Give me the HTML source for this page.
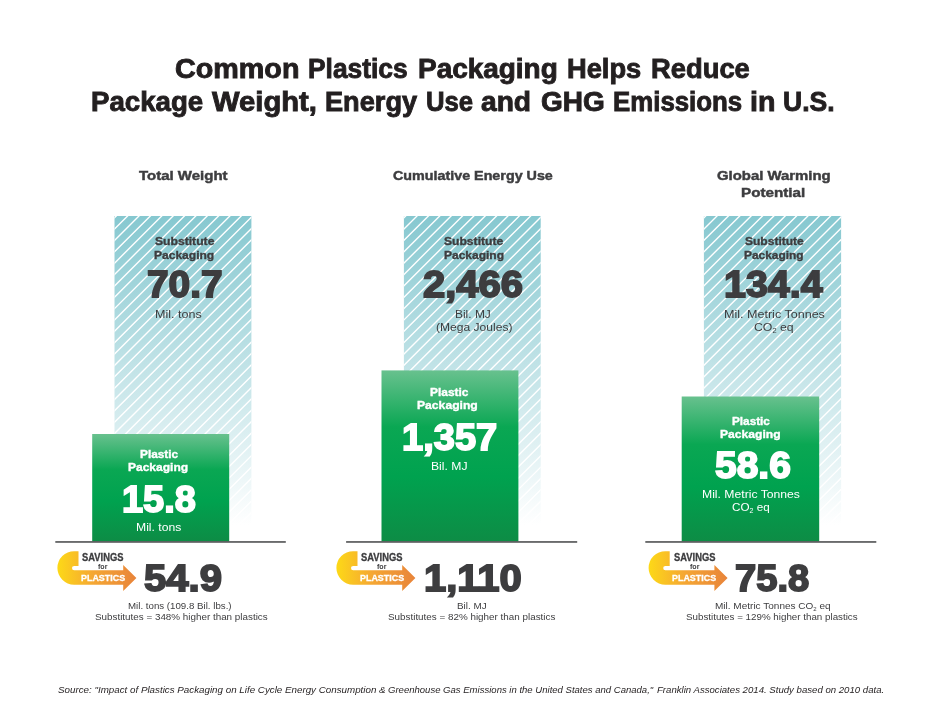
<!DOCTYPE html>
<html lang="en"><head><meta charset="utf-8"><title>Common Plastics Packaging Helps Reduce Package Weight, Energy Use and GHG Emissions in U.S.</title>
<style>
*{margin:0;padding:0;box-sizing:border-box}
html,body{width:940px;height:726px;background:#fff;overflow:hidden}
body{position:relative;font-family:"Liberation Sans",sans-serif}
.t{position:absolute;display:block;white-space:nowrap;line-height:1;transform-origin:0 0}
h1,p{font:inherit}
.sb{font-size:60%;position:relative;top:0.34em}
.bg{position:absolute;left:0;top:0}
</style></head>
<body>
<svg class="bg" width="940" height="726" viewBox="0 0 940 726">
<defs>
<linearGradient id="gs" x1="0" y1="0" x2="0" y2="1"><stop offset="0" stop-color="#86c8d0"/><stop offset="0.95" stop-color="#ffffff"/><stop offset="1" stop-color="#ffffff"/></linearGradient>
<linearGradient id="gg" x1="0" y1="0" x2="0" y2="1"><stop offset="0" stop-color="#68c18e"/><stop offset="0.33" stop-color="#0aa753"/><stop offset="0.62" stop-color="#00a24f"/><stop offset="1" stop-color="#0d8c45"/></linearGradient>
<linearGradient id="gi0" gradientUnits="userSpaceOnUse" x1="57.4" y1="0" x2="136.4" y2="0"><stop offset="0" stop-color="#fdd917"/><stop offset="0.45" stop-color="#f5a733"/><stop offset="1" stop-color="#e8843a"/></linearGradient>
<linearGradient id="gi1" gradientUnits="userSpaceOnUse" x1="336.4" y1="0" x2="415.4" y2="0"><stop offset="0" stop-color="#fdd917"/><stop offset="0.45" stop-color="#f5a733"/><stop offset="1" stop-color="#e8843a"/></linearGradient>
<linearGradient id="gi2" gradientUnits="userSpaceOnUse" x1="648.6" y1="0" x2="727.6" y2="0"><stop offset="0" stop-color="#fdd917"/><stop offset="0.45" stop-color="#f5a733"/><stop offset="1" stop-color="#e8843a"/></linearGradient>
<clipPath id="c0"><rect x="114.5" y="216.0" width="136.90" height="325.10"/></clipPath>
<clipPath id="c1"><rect x="403.9" y="216.0" width="136.80" height="325.10"/></clipPath>
<clipPath id="c2"><rect x="703.9" y="216.0" width="137.20" height="325.10"/></clipPath>
</defs>
<rect x="114.5" y="216.0" width="136.90" height="325.10" fill="url(#gs)"/>
<g clip-path="url(#c0)"><path d="M112.50,219.74L253.40,78.84M112.50,231.10L253.40,90.20M112.50,242.46L253.40,101.56M112.50,253.82L253.40,112.92M112.50,265.18L253.40,124.28M112.50,276.54L253.40,135.64M112.50,287.90L253.40,147.00M112.50,299.26L253.40,158.36M112.50,310.62L253.40,169.72M112.50,321.98L253.40,181.08M112.50,333.34L253.40,192.44M112.50,344.70L253.40,203.80M112.50,356.06L253.40,215.16M112.50,367.42L253.40,226.52M112.50,378.78L253.40,237.88M112.50,390.14L253.40,249.24M112.50,401.50L253.40,260.60M112.50,412.86L253.40,271.96M112.50,424.22L253.40,283.32M112.50,435.58L253.40,294.68M112.50,446.94L253.40,306.04M112.50,458.30L253.40,317.40M112.50,469.66L253.40,328.76M112.50,481.02L253.40,340.12M112.50,492.38L253.40,351.48M112.50,503.74L253.40,362.84M112.50,515.10L253.40,374.20M112.50,526.46L253.40,385.56M112.50,537.82L253.40,396.92M112.50,549.18L253.40,408.28M112.50,560.54L253.40,419.64M112.50,571.90L253.40,431.00M112.50,583.26L253.40,442.36M112.50,594.62L253.40,453.72M112.50,605.98L253.40,465.08M112.50,617.34L253.40,476.44M112.50,628.70L253.40,487.80M112.50,640.06L253.40,499.16M112.50,651.42L253.40,510.52M112.50,662.78L253.40,521.88M112.50,674.14L253.40,533.24" stroke="#fff" stroke-width="1.4" fill="none"/></g>
<rect x="92.2" y="434.0" width="137.00" height="107.70" fill="url(#gg)"/>
<rect x="55.3" y="541.1" width="230.50" height="1.7" fill="#5a5b5d"/>
<rect x="403.9" y="216.0" width="136.80" height="325.10" fill="url(#gs)"/>
<g clip-path="url(#c1)"><path d="M401.90,219.74L542.70,78.94M401.90,231.10L542.70,90.30M401.90,242.46L542.70,101.66M401.90,253.82L542.70,113.02M401.90,265.18L542.70,124.38M401.90,276.54L542.70,135.74M401.90,287.90L542.70,147.10M401.90,299.26L542.70,158.46M401.90,310.62L542.70,169.82M401.90,321.98L542.70,181.18M401.90,333.34L542.70,192.54M401.90,344.70L542.70,203.90M401.90,356.06L542.70,215.26M401.90,367.42L542.70,226.62M401.90,378.78L542.70,237.98M401.90,390.14L542.70,249.34M401.90,401.50L542.70,260.70M401.90,412.86L542.70,272.06M401.90,424.22L542.70,283.42M401.90,435.58L542.70,294.78M401.90,446.94L542.70,306.14M401.90,458.30L542.70,317.50M401.90,469.66L542.70,328.86M401.90,481.02L542.70,340.22M401.90,492.38L542.70,351.58M401.90,503.74L542.70,362.94M401.90,515.10L542.70,374.30M401.90,526.46L542.70,385.66M401.90,537.82L542.70,397.02M401.90,549.18L542.70,408.38M401.90,560.54L542.70,419.74M401.90,571.90L542.70,431.10M401.90,583.26L542.70,442.46M401.90,594.62L542.70,453.82M401.90,605.98L542.70,465.18M401.90,617.34L542.70,476.54M401.90,628.70L542.70,487.90M401.90,640.06L542.70,499.26M401.90,651.42L542.70,510.62M401.90,662.78L542.70,521.98M401.90,674.14L542.70,533.34" stroke="#fff" stroke-width="1.4" fill="none"/></g>
<rect x="381.5" y="370.4" width="136.90" height="171.30" fill="url(#gg)"/>
<rect x="346.1" y="541.1" width="231.10" height="1.7" fill="#5a5b5d"/>
<rect x="703.9" y="216.0" width="137.20" height="325.10" fill="url(#gs)"/>
<g clip-path="url(#c2)"><path d="M701.90,219.74L843.10,78.54M701.90,231.10L843.10,89.90M701.90,242.46L843.10,101.26M701.90,253.82L843.10,112.62M701.90,265.18L843.10,123.98M701.90,276.54L843.10,135.34M701.90,287.90L843.10,146.70M701.90,299.26L843.10,158.06M701.90,310.62L843.10,169.42M701.90,321.98L843.10,180.78M701.90,333.34L843.10,192.14M701.90,344.70L843.10,203.50M701.90,356.06L843.10,214.86M701.90,367.42L843.10,226.22M701.90,378.78L843.10,237.58M701.90,390.14L843.10,248.94M701.90,401.50L843.10,260.30M701.90,412.86L843.10,271.66M701.90,424.22L843.10,283.02M701.90,435.58L843.10,294.38M701.90,446.94L843.10,305.74M701.90,458.30L843.10,317.10M701.90,469.66L843.10,328.46M701.90,481.02L843.10,339.82M701.90,492.38L843.10,351.18M701.90,503.74L843.10,362.54M701.90,515.10L843.10,373.90M701.90,526.46L843.10,385.26M701.90,537.82L843.10,396.62M701.90,549.18L843.10,407.98M701.90,560.54L843.10,419.34M701.90,571.90L843.10,430.70M701.90,583.26L843.10,442.06M701.90,594.62L843.10,453.42M701.90,605.98L843.10,464.78M701.90,617.34L843.10,476.14M701.90,628.70L843.10,487.50M701.90,640.06L843.10,498.86M701.90,651.42L843.10,510.22M701.90,662.78L843.10,521.58M701.90,674.14L843.10,532.94" stroke="#fff" stroke-width="1.4" fill="none"/></g>
<rect x="681.7" y="396.5" width="137.50" height="145.20" fill="url(#gg)"/>
<rect x="645.3" y="541.1" width="231.00" height="1.7" fill="#5a5b5d"/>
<path d="M74.15,551.20 L78.50,551.20 L78.50,565.90 L74.20,565.90 A2.20,2.20 0 0 0 74.20,570.30 L123.20,570.30 L123.20,564.90 L136.40,577.90 L123.20,591.00 L123.20,584.70 L74.15,584.70 A16.75,16.75 0 0 1 74.15,551.20 Z" fill="url(#gi0)"/>
<path d="M353.15,551.20 L357.50,551.20 L357.50,565.90 L353.20,565.90 A2.20,2.20 0 0 0 353.20,570.30 L402.20,570.30 L402.20,564.90 L415.40,577.90 L402.20,591.00 L402.20,584.70 L353.15,584.70 A16.75,16.75 0 0 1 353.15,551.20 Z" fill="url(#gi1)"/>
<path d="M665.35,551.20 L669.70,551.20 L669.70,565.90 L665.40,565.90 A2.20,2.20 0 0 0 665.40,570.30 L714.40,570.30 L714.40,564.90 L727.60,577.90 L714.40,591.00 L714.40,584.70 L665.35,584.70 A16.75,16.75 0 0 1 665.35,551.20 Z" fill="url(#gi2)"/>
</svg>
<h1>
<span class="t" style="left:174.60px;top:56.00px;font-size:27.0px;font-weight:bold;color:#231f20;-webkit-text-stroke:0.9px #231f20;transform:scaleX(1.0635);">Common</span> 
<span class="t" style="left:308.38px;top:56.00px;font-size:27.0px;font-weight:bold;color:#231f20;-webkit-text-stroke:0.9px #231f20;transform:scaleX(0.9756);">Plastics</span> 
<span class="t" style="left:418.41px;top:56.00px;font-size:27.0px;font-weight:bold;color:#231f20;-webkit-text-stroke:0.9px #231f20;transform:scaleX(1.0347);">Packaging</span> 
<span class="t" style="left:566.94px;top:56.00px;font-size:27.0px;font-weight:bold;color:#231f20;-webkit-text-stroke:0.9px #231f20;transform:scaleX(1.0098);">Helps</span> 
<span class="t" style="left:650.63px;top:56.00px;font-size:27.0px;font-weight:bold;color:#231f20;-webkit-text-stroke:0.9px #231f20;transform:scaleX(1.0131);">Reduce</span> 
<span class="t" style="left:91.12px;top:89.00px;font-size:27.0px;font-weight:bold;color:#231f20;-webkit-text-stroke:0.9px #231f20;transform:scaleX(1.0237);">Package</span> 
<span class="t" style="left:212.44px;top:89.00px;font-size:27.0px;font-weight:bold;color:#231f20;-webkit-text-stroke:0.9px #231f20;transform:scaleX(1.0816);">Weight,</span> 
<span class="t" style="left:325.34px;top:89.00px;font-size:27.0px;font-weight:bold;color:#231f20;-webkit-text-stroke:0.9px #231f20;transform:scaleX(1.0061);">Energy</span> 
<span class="t" style="left:426.21px;top:89.00px;font-size:27.0px;font-weight:bold;color:#231f20;-webkit-text-stroke:0.9px #231f20;transform:scaleX(0.9508);">Use</span> 
<span class="t" style="left:481.44px;top:89.00px;font-size:27.0px;font-weight:bold;color:#231f20;-webkit-text-stroke:0.9px #231f20;transform:scaleX(1.0430);">and</span> 
<span class="t" style="left:540.52px;top:89.00px;font-size:27.0px;font-weight:bold;color:#231f20;-webkit-text-stroke:0.9px #231f20;transform:scaleX(1.0370);">GHG</span> 
<span class="t" style="left:613.40px;top:89.00px;font-size:27.0px;font-weight:bold;color:#231f20;-webkit-text-stroke:0.9px #231f20;transform:scaleX(0.9568);">Emissions</span> 
<span class="t" style="left:749.91px;top:89.00px;font-size:27.0px;font-weight:bold;color:#231f20;-webkit-text-stroke:0.9px #231f20;transform:scaleX(1.0588);">in</span> 
<span class="t" style="left:783.47px;top:89.00px;font-size:27.0px;font-weight:bold;color:#231f20;-webkit-text-stroke:0.9px #231f20;transform:scaleX(0.9829);">U.S.</span> 
</h1>
<div class="t" style="left:139.40px;top:169.00px;font-size:13px;font-weight:bold;color:#3d3d3f;-webkit-text-stroke:0.45px #3d3d3f;transform:scaleX(1.1531);">Total Weight</div>
<div class="t" style="left:392.82px;top:169.00px;font-size:13px;font-weight:bold;color:#3d3d3f;-webkit-text-stroke:0.45px #3d3d3f;transform:scaleX(1.1005);">Cumulative Energy Use</div>
<div class="t" style="left:716.71px;top:169.00px;font-size:13px;font-weight:bold;color:#3d3d3f;-webkit-text-stroke:0.45px #3d3d3f;transform:scaleX(1.1461);">Global Warming</div>
<div class="t" style="left:741.42px;top:186.00px;font-size:13px;font-weight:bold;color:#3d3d3f;-webkit-text-stroke:0.45px #3d3d3f;transform:scaleX(1.1701);">Potential</div>
<div class="t" style="left:154.71px;top:236.00px;font-size:10.5px;font-weight:bold;color:#3d3d3f;-webkit-text-stroke:0.35px #3d3d3f;transform:scaleX(1.1569);">Substitute</div>
<div class="t" style="left:154.43px;top:250.00px;font-size:10.5px;font-weight:bold;color:#3d3d3f;-webkit-text-stroke:0.35px #3d3d3f;transform:scaleX(1.1456);">Packaging</div>
<div class="t" style="left:147.13px;top:266.00px;font-size:37.6px;font-weight:bold;color:#3d3d3f;-webkit-text-stroke:1.8px #3d3d3f;transform:scaleX(1.0328);">70.7</div>
<div class="t" style="left:155.00px;top:309.00px;font-size:10.5px;font-weight:normal;color:#3d3d3f;transform:scaleX(1.1947);">Mil. tons</div>
<div class="t" style="left:443.81px;top:236.00px;font-size:10.5px;font-weight:bold;color:#3d3d3f;-webkit-text-stroke:0.35px #3d3d3f;transform:scaleX(1.1529);">Substitute</div>
<div class="t" style="left:443.53px;top:250.00px;font-size:10.5px;font-weight:bold;color:#3d3d3f;-webkit-text-stroke:0.35px #3d3d3f;transform:scaleX(1.1417);">Packaging</div>
<div class="t" style="left:423.37px;top:266.00px;font-size:37.6px;font-weight:bold;color:#3d3d3f;-webkit-text-stroke:1.8px #3d3d3f;transform:scaleX(1.0645);">2,466</div>
<div class="t" style="left:455.35px;top:309.00px;font-size:10.5px;font-weight:normal;color:#3d3d3f;transform:scaleX(1.1367);">Bil. MJ</div>
<div class="t" style="left:435.64px;top:322.00px;font-size:10.5px;font-weight:normal;color:#3d3d3f;transform:scaleX(1.1492);">(Mega Joules)</div>
<div class="t" style="left:744.51px;top:236.00px;font-size:10.5px;font-weight:bold;color:#3d3d3f;-webkit-text-stroke:0.35px #3d3d3f;transform:scaleX(1.1451);">Substitute</div>
<div class="t" style="left:744.23px;top:250.00px;font-size:10.5px;font-weight:bold;color:#3d3d3f;-webkit-text-stroke:0.35px #3d3d3f;transform:scaleX(1.1340);">Packaging</div>
<div class="t" style="left:723.63px;top:266.00px;font-size:37.6px;font-weight:bold;color:#3d3d3f;-webkit-text-stroke:1.8px #3d3d3f;transform:scaleX(1.0477);">134.4</div>
<div class="t" style="left:723.50px;top:309.00px;font-size:10.5px;font-weight:normal;color:#3d3d3f;transform:scaleX(1.1952);">Mil. Metric Tonnes</div>
<div class="t" style="left:754.12px;top:322.00px;font-size:10.5px;font-weight:normal;color:#3d3d3f;transform:scaleX(1.1695);">CO<span class="sb">2</span> eq</div>
<div class="t" style="left:140.04px;top:449.00px;font-size:10.5px;font-weight:bold;color:#ffffff;-webkit-text-stroke:0.35px #ffffff;transform:scaleX(1.1278);">Plastic</div>
<div class="t" style="left:128.03px;top:462.00px;font-size:10.5px;font-weight:bold;color:#ffffff;-webkit-text-stroke:0.35px #ffffff;transform:scaleX(1.1437);">Packaging</div>
<div class="t" style="left:122.29px;top:481.00px;font-size:37.6px;font-weight:bold;color:#ffffff;-webkit-text-stroke:1.8px #ffffff;transform:scaleX(1.0098);">15.8</div>
<div class="t" style="left:136.43px;top:522.00px;font-size:10.5px;font-weight:normal;color:#ffffff;transform:scaleX(1.1579);">Mil. tons</div>
<div class="t" style="left:429.63px;top:387.00px;font-size:10.5px;font-weight:bold;color:#ffffff;-webkit-text-stroke:0.35px #ffffff;transform:scaleX(1.1368);">Plastic</div>
<div class="t" style="left:417.12px;top:400.00px;font-size:10.5px;font-weight:bold;color:#ffffff;-webkit-text-stroke:0.35px #ffffff;transform:scaleX(1.1573);">Packaging</div>
<div class="t" style="left:401.78px;top:419.00px;font-size:37.6px;font-weight:bold;color:#ffffff;-webkit-text-stroke:1.8px #ffffff;transform:scaleX(1.0125);">1,357</div>
<div class="t" style="left:430.53px;top:461.00px;font-size:10.5px;font-weight:normal;color:#ffffff;transform:scaleX(1.1600);">Bil. MJ</div>
<div class="t" style="left:732.14px;top:416.00px;font-size:10.5px;font-weight:bold;color:#ffffff;-webkit-text-stroke:0.35px #ffffff;transform:scaleX(1.1188);">Plastic</div>
<div class="t" style="left:719.72px;top:429.00px;font-size:10.5px;font-weight:bold;color:#ffffff;-webkit-text-stroke:0.35px #ffffff;transform:scaleX(1.1534);">Packaging</div>
<div class="t" style="left:714.54px;top:447.00px;font-size:37.6px;font-weight:bold;color:#ffffff;-webkit-text-stroke:1.8px #ffffff;transform:scaleX(1.0372);">58.6</div>
<div class="t" style="left:702.03px;top:489.00px;font-size:10.5px;font-weight:normal;color:#ffffff;transform:scaleX(1.1604);">Mil. Metric Tonnes</div>
<div class="t" style="left:732.14px;top:502.00px;font-size:10.5px;font-weight:normal;color:#ffffff;transform:scaleX(1.1115);">CO<span class="sb">2</span> eq</div>
<div class="t" style="left:144.23px;top:560.00px;font-size:37.6px;font-weight:bold;color:#3d3d3f;-webkit-text-stroke:1.8px #3d3d3f;transform:scaleX(1.0676);">54.9</div>
<div class="t" style="left:424.01px;top:560.00px;font-size:37.6px;font-weight:bold;color:#3d3d3f;-webkit-text-stroke:1.8px #3d3d3f;transform:scaleX(1.0630);">1,110</div>
<div class="t" style="left:735.44px;top:560.00px;font-size:37.6px;font-weight:bold;color:#3d3d3f;-webkit-text-stroke:1.8px #3d3d3f;transform:scaleX(1.0159);">75.8</div>
<div class="t" style="left:128.22px;top:602.00px;font-size:9.3px;font-weight:normal;color:#3d3d3f;transform:scaleX(1.0439);">Mil. tons (109.8 Bil. lbs.)</div>
<div class="t" style="left:94.67px;top:613.00px;font-size:9.3px;font-weight:normal;color:#3d3d3f;transform:scaleX(1.0589);">Substitutes = 348% higher than plastics</div>
<div class="t" style="left:457.40px;top:602.00px;font-size:9.3px;font-weight:normal;color:#3d3d3f;transform:scaleX(1.0604);">Bil. MJ</div>
<div class="t" style="left:387.87px;top:613.00px;font-size:9.3px;font-weight:normal;color:#3d3d3f;transform:scaleX(1.0599);">Substitutes = 82% higher than plastics</div>
<div class="t" style="left:714.59px;top:602.00px;font-size:9.3px;font-weight:normal;color:#3d3d3f;transform:scaleX(1.0774);">Mil. Metric Tonnes CO<span class="sb">2</span> eq</div>
<div class="t" style="left:685.97px;top:613.00px;font-size:9.3px;font-weight:normal;color:#3d3d3f;transform:scaleX(1.0527);">Substitutes = 129% higher than plastics</div>
<div class="t" style="left:82.07px;top:553.00px;font-size:10.0px;font-weight:bold;color:#3d3d3f;-webkit-text-stroke:0.3px #3d3d3f;transform:scaleX(0.9349);">SAVINGS</div>
<div class="t" style="left:98.10px;top:564.00px;font-size:6.5px;font-weight:bold;color:#3d3d3f;transform:scaleX(1.0941);">for</div>
<div class="t" style="left:80.64px;top:573.00px;font-size:9.7px;font-weight:bold;color:#ffffff;-webkit-text-stroke:0.3px #ffffff;transform:scaleX(0.9206);">PLASTICS</div>
<div class="t" style="left:361.07px;top:553.00px;font-size:10.0px;font-weight:bold;color:#3d3d3f;-webkit-text-stroke:0.3px #3d3d3f;transform:scaleX(0.9349);">SAVINGS</div>
<div class="t" style="left:377.10px;top:564.00px;font-size:6.5px;font-weight:bold;color:#3d3d3f;transform:scaleX(1.0941);">for</div>
<div class="t" style="left:359.64px;top:573.00px;font-size:9.7px;font-weight:bold;color:#ffffff;-webkit-text-stroke:0.3px #ffffff;transform:scaleX(0.9206);">PLASTICS</div>
<div class="t" style="left:673.67px;top:553.00px;font-size:10.0px;font-weight:bold;color:#3d3d3f;-webkit-text-stroke:0.3px #3d3d3f;transform:scaleX(0.9349);">SAVINGS</div>
<div class="t" style="left:689.70px;top:564.00px;font-size:6.5px;font-weight:bold;color:#3d3d3f;transform:scaleX(1.0941);">for</div>
<div class="t" style="left:672.24px;top:573.00px;font-size:9.7px;font-weight:bold;color:#ffffff;-webkit-text-stroke:0.3px #ffffff;transform:scaleX(0.9206);">PLASTICS</div>
<p>
<span class="t" style="left:58.04px;top:686.00px;font-size:9.3px;font-weight:normal;color:#231f20;font-style:italic;transform:scaleX(1.0525);">Source: "Impact of Plastics Packaging on Life Cycle Energy Consumption &amp;</span> 
<span class="t" style="left:388.19px;top:686.00px;font-size:9.3px;font-weight:normal;color:#231f20;font-style:italic;transform:scaleX(1.0255);">Greenhouse Gas Emissions in the United States and Canada,"</span> 
<span class="t" style="left:656.74px;top:686.00px;font-size:9.3px;font-weight:normal;color:#231f20;font-style:italic;transform:scaleX(1.0334);">Franklin Associates 2014. Study based on 2010 data.</span> 
</p>
</body></html>
